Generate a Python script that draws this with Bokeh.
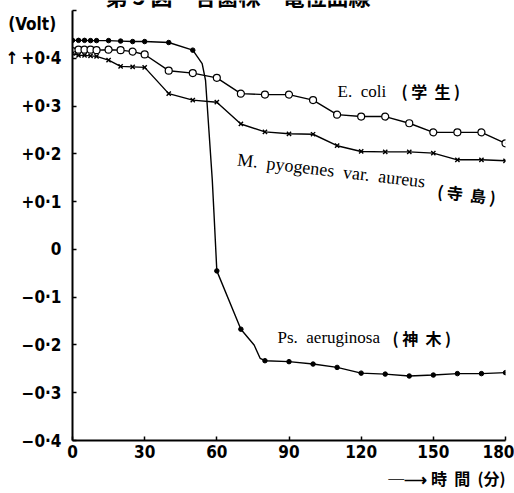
from bokeh.plotting import figure
from bokeh.models import Range1d, FixedTicker, Label, Title
from bokeh.embed import file_html
from bokeh.resources import INLINE

# ---------------- data ----------------
minutes = [0, 2.5, 5, 7.5, 10, 15, 20, 25, 30, 40, 50, 60, 70, 80, 90,
           100, 110, 120, 130, 140, 150, 160, 170, 180]
ecoli = [0.415, 0.418, 0.418, 0.418, 0.417, 0.418, 0.417, 0.414, 0.408,
         0.374, 0.369, 0.359, 0.326, 0.324, 0.324, 0.3125, 0.282, 0.278,
         0.278, 0.264, 0.245, 0.245, 0.245, 0.222]
mpyogenes = [0.410, 0.406, 0.406, 0.405, 0.404, 0.396, 0.383, 0.382, 0.381,
             0.326, 0.3125, 0.308, 0.2625, 0.246, 0.242, 0.241, 0.217, 0.205,
             0.204, 0.204, 0.2015, 0.1875, 0.1875, 0.1855]
psaer = [0.4375, 0.4375, 0.4375, 0.437, 0.437, 0.437, 0.436, 0.435, 0.435,
         0.433, 0.417, -0.045, -0.167, -0.233, -0.235, -0.240, -0.247, -0.259,
         -0.261, -0.265, -0.263, -0.260, -0.260, -0.258]
ps_curve_t = [53.9, 55.3, 56.7, 58.1, 58.8, 75.5, 78.0]
ps_curve_v = [0.389, 0.354, 0.250, 0.146, 0.077, -0.200, -0.228]

NB = "\u00a0"
x_ticks = [0, 30, 60, 90, 120, 150, 180]
y_ticks = [-0.4, -0.3, -0.2, -0.1, 0.0, 0.1, 0.2, 0.3, 0.4, 0.5]
y_tick_labels = ["\u22120\u00b74", "\u22120\u00b73", "\u22120\u00b72", "\u22120\u00b71", "0",
                 "+0\u00b71", "+0\u00b72", "+0\u00b73", "\u2191\u2009+0\u00b74",
                 NB + "\n(Volt)" + NB]

title_text = "第 5 図　各菌株　電位曲線"
x_unit = "─⟶" + NB + "時" + NB + " 間" + NB + " (分)"

# ---------------- layout ----------------
W, H = 514, 493
L, R, T, B = 72, 9, 0, 53
X0, X1 = 0, 180
AX_Y0, AX_Y1 = -0.4, 0.5          # extent of the drawn y axis
AX_TOP_PX = 10                    # the y axis starts 10 px below the top
ppu = (H - B - AX_TOP_PX) / (AX_Y1 - AX_Y0)
Y0 = AX_Y0
Y1 = AX_Y0 + (H - B - T) / ppu    # frame reaches to the top of the canvas

p = figure(width=W, height=H, output_backend="svg", toolbar_location=None,
           x_range=Range1d(X0, X1), y_range=Range1d(Y0, Y1),
           min_border_left=L, min_border_right=R, min_border_top=T,
           min_border_bottom=B, background_fill_color="white",
           border_fill_color="white")
p.outline_line_color = None
p.xgrid.grid_line_color = None
p.ygrid.grid_line_color = None


# screen units are measured from the frame's bottom-left corner, y upward
def sx(px):
    return px - L


def sy(py):
    return (H - B) - py


NUM_FONT = "'Liberation Sans Narrow', 'DejaVu Sans Condensed', sans-serif"
SERIF = "'Liberation Serif', serif"
CJK = "'Noto Sans CJK JP', sans-serif"

# axes
for ax in (p.xaxis[0], p.yaxis[0]):
    ax.axis_line_width = 2
    ax.axis_line_color = "black"
    ax.major_tick_in = 4
    ax.major_tick_out = 0
    ax.major_tick_line_width = 1.5
    ax.minor_tick_line_color = None
    ax.major_label_text_font = NUM_FONT
    ax.major_label_text_font_style = "bold"
    ax.major_label_text_font_size = "17px"
    ax.major_label_text_color = "black"

p.xaxis.ticker = FixedTicker(ticks=x_ticks)
p.xaxis.major_label_overrides = {t: str(t) for t in x_ticks}
p.xaxis.major_label_standoff = 4

p.yaxis.ticker = FixedTicker(ticks=y_ticks)
p.yaxis.bounds = (AX_Y0, AX_Y1)
p.yaxis.major_label_overrides = {t: s for t, s in zip(y_ticks, y_tick_labels)}
p.yaxis.major_label_standoff = 11
p.yaxis.major_label_text_line_height = 0.65

# ---------------- lines & markers ----------------
LW = 1.4
p.line(minutes, ecoli, line_color="black", line_width=LW)
p.line(minutes, mpyogenes, line_color="black", line_width=LW)

ps_pts = sorted(zip(minutes + ps_curve_t, psaer + ps_curve_v))
p.line([a for a, _ in ps_pts], [b for _, b in ps_pts], line_color="black", line_width=LW)

p.scatter(minutes, ecoli, marker="circle", size=7, fill_color="white",
          line_color="black", line_width=1.2)
p.scatter(minutes, mpyogenes, marker="x", size=6, line_color="black", line_width=1.4)
p.scatter(minutes, psaer, marker="circle", size=4.5, fill_color="black",
          line_color="black")


# ---------------- texts ----------------
def lab(px, py, text, font, size, style="normal", angle=0.0, align="left"):
    p.add_layout(Label(x=sx(px), y=sy(py), x_units="screen", y_units="screen",
                       text=text, text_font=font,
                       text_font_size=size, text_font_style=style,
                       text_baseline="middle", text_align=align, angle=angle,
                       text_color="black"))


lab(105, -6, title_text, CJK, "22px", "bold")

lab(337, 91, "E." + NB + " coli", SERIF, "17px")
lab(401, 90, "(" + NB + "学" + NB + NB + "生" + NB + ")", CJK, "16px", "bold")

ang = -0.117
lab(237, 159, "M." + NB + " pyogenes" + NB + " var." + NB + " aureus", SERIF, "18px", angle=ang)
lab(437, 190, "(" + NB + "寺" + NB + NB + "島" + NB + ")", CJK, "16px", "bold", angle=ang)

lab(277, 337, "Ps." + NB + " aeruginosa", SERIF, "17px")
lab(392, 337, "(" + NB + "神" + NB + NB + "木" + NB + ")", CJK, "16px", "bold")

p.add_layout(Title(text=x_unit, align="right", offset=0, standoff=6,
                   text_font=CJK, text_font_size="16px", text_font_style="bold",
                   text_color="black"), "below")

open("out.html", "w").write(file_html(p, INLINE))
